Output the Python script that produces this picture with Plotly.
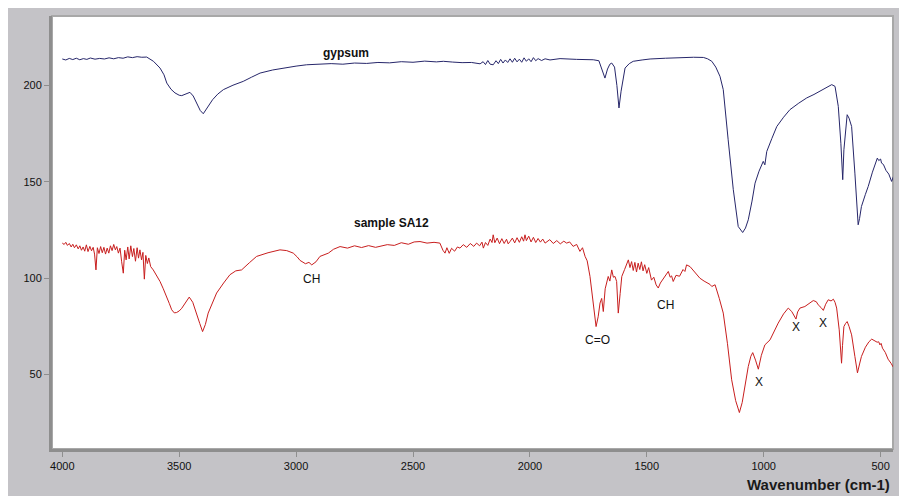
import plotly.graph_objects as go

# IR spectra (wavenumber cm-1, transmittance-like units)
gypsum_wn = [4000, 3985, 3970, 3955, 3940, 3925, 3910, 3895, 3880, 3860, 3840, 3820, 3800, 3780,
             3760, 3740, 3720, 3700, 3680, 3660, 3639, 3610, 3582, 3565, 3553, 3535, 3518, 3500,
             3489, 3470, 3454, 3440, 3425, 3410, 3397, 3385, 3370, 3357, 3335, 3311, 3270, 3226,
             3190, 3154, 3100, 3055, 3000, 2955, 2900, 2850, 2800, 2750, 2698, 2650, 2600, 2550,
             2500, 2450, 2400, 2370, 2330, 2290, 2250, 2213, 2200, 2190, 2180, 2170, 2157, 2145,
             2135, 2125, 2115, 2105, 2095, 2085, 2075, 2065, 2055, 2045, 2035, 2025, 2015, 2005,
             1995, 1985, 1975, 1965, 1950, 1935, 1914, 1890, 1871, 1800, 1729, 1705, 1690, 1679,
             1668, 1658, 1650, 1638, 1628, 1619, 1610, 1600, 1593, 1575, 1558, 1520, 1486, 1420,
             1344, 1300, 1258, 1240, 1222, 1205, 1187, 1173, 1152, 1130, 1109, 1090, 1078, 1066,
             1050, 1037, 1020, 1009, 1002, 995, 987, 965, 944, 915, 888, 850, 816, 785, 759, 730,
             709, 695, 681, 670, 662, 657, 650, 643, 635, 624, 610, 596, 590, 582, 565, 553, 535,
             514, 508, 500, 496, 488, 477, 465, 453, 444]
gypsum_t = [213.7, 213.2, 214.0, 213.4, 214.1, 213.3, 213.9, 213.5, 214.2, 213.6, 214.0, 213.7,
            214.3, 213.8, 214.4, 214.1, 214.8, 214.4, 214.9, 214.6, 214.7, 212.5, 209.0, 205.5,
            201.2, 198.0, 196.1, 194.9, 194.7, 195.6, 196.4, 194.5, 190.9, 187.0, 185.3, 187.5,
            190.5, 192.6, 195.5, 197.8, 200.1, 202.1, 204.3, 206.4, 208.0, 209.0, 210.0, 210.7,
            210.9, 211.3, 211.0, 211.6, 211.4, 211.9, 211.7, 212.3, 212.0, 212.6, 212.2, 212.5,
            212.1, 211.8, 211.9, 211.2, 212.3, 210.8, 212.9, 211.0, 210.7, 212.8, 211.3, 213.5,
            211.6, 213.2, 211.9, 213.8, 212.0, 214.1, 212.2, 213.6, 212.0, 214.3, 212.5, 213.8,
            212.3, 214.4, 212.8, 213.9, 212.9, 213.8, 213.2, 213.6, 213.9, 213.5, 213.3, 212.8,
            208.0, 203.8, 208.5, 211.0, 211.6, 209.5, 200.0, 188.3, 197.0, 205.5, 209.0, 211.3,
            212.5, 213.2, 213.7, 214.1, 214.5, 214.6, 214.5, 213.8, 212.5, 209.5, 204.7, 197.8,
            171.8, 145.9, 126.8, 123.7, 126.0, 130.3, 140.0, 149.3, 155.5, 158.8, 160.6, 158.8,
            165.7, 172.5, 178.7, 183.5, 187.4, 190.8, 193.5, 195.3, 196.9, 198.8, 200.4, 199.5,
            189.1, 170.0, 151.1, 166.6, 178.0, 184.8, 183.0, 178.7, 154.5, 127.7, 131.0, 137.2,
            143.5, 147.6, 155.0, 162.3, 161.0, 161.8, 159.7, 159.0, 155.9, 154.0, 150.2, 153.1]

sample_wn = [4000, 3992, 3985, 3978, 3970, 3962, 3955, 3948, 3940, 3932, 3925, 3918, 3911, 3904,
             3897, 3890, 3882, 3875, 3868, 3862, 3856, 3850, 3843, 3836, 3829, 3822, 3815, 3808,
             3801, 3794, 3787, 3780, 3773, 3767, 3760, 3753, 3746, 3739, 3733, 3727, 3720, 3714,
             3707, 3700, 3694, 3687, 3680, 3674, 3668, 3661, 3655, 3649, 3643, 3636, 3630, 3622,
             3611, 3596, 3582, 3568, 3553, 3542, 3532, 3521, 3511, 3500, 3489, 3472, 3457, 3442,
             3425, 3412, 3400, 3388, 3376, 3358, 3340, 3310, 3283, 3258, 3233, 3200, 3169, 3120,
             3069, 3040, 3012, 2995, 2983, 2960, 2945, 2933, 2915, 2898, 2862, 2840, 2812, 2780,
             2750, 2720, 2690, 2660, 2641, 2610, 2580, 2550, 2520, 2495, 2470, 2440, 2410, 2385,
             2372, 2363, 2355, 2345, 2335, 2322, 2310, 2299, 2285, 2270, 2255, 2240, 2228, 2215,
             2205, 2199, 2190, 2180, 2170, 2162, 2157, 2150, 2140, 2130, 2120, 2110, 2100, 2093,
             2085, 2075, 2065, 2055, 2045, 2035, 2027, 2021, 2015, 2005, 1995, 1985, 1975, 1965,
             1955, 1945, 1935, 1928, 1915, 1900, 1885, 1870, 1855, 1843, 1830, 1815, 1800, 1786,
             1775, 1764, 1755, 1743, 1729, 1717, 1708, 1700, 1693, 1686, 1678, 1672, 1665, 1658,
             1650, 1643, 1636, 1629, 1622, 1614, 1607, 1595, 1586, 1579, 1572, 1565, 1558, 1551,
             1544, 1537, 1530, 1523, 1516, 1509, 1500, 1492, 1480, 1470, 1460, 1451, 1442, 1430,
             1420, 1408, 1400, 1394, 1387, 1375, 1360, 1345, 1337, 1330, 1315, 1300, 1285, 1273,
             1255, 1240, 1230, 1222, 1208, 1190, 1173, 1155, 1137, 1120, 1104, 1092, 1080, 1066,
             1055, 1047, 1035, 1023, 1010, 995, 973, 955, 938, 915, 895, 880, 868, 862, 855, 845,
             824, 805, 788, 775, 767, 755, 745, 735, 724, 712, 702, 695, 688, 677, 670, 667, 663,
             657, 650, 643, 635, 624, 610, 599, 590, 582, 565, 550, 538, 525, 515, 508, 503, 498,
             492, 480, 468, 455, 446]
sample_t = [118.2, 117.5, 118.6, 117.0, 118.0, 116.2, 117.6, 115.8, 117.3, 115.2, 116.8, 114.5,
            116.2, 114.0, 117.3, 113.8, 116.5, 114.2, 116.0, 112.5, 104.3, 115.8, 112.8, 116.4,
            113.2, 116.0, 112.5, 115.6, 113.0, 116.8, 114.3, 117.5, 114.7, 116.4, 113.0, 115.6,
            108.5, 102.6, 114.5, 109.5, 116.2, 110.0, 116.8, 111.2, 115.4, 108.8, 115.8, 110.4,
            114.7, 109.5, 113.4, 99.5, 111.8, 107.6, 110.5, 106.0, 104.3, 101.5, 98.3, 94.5,
            90.5, 86.8, 83.6, 82.0, 82.2, 83.0, 84.4, 87.5, 90.2, 87.5, 81.9, 76.5, 72.3, 76.0,
            81.9, 87.5, 92.3, 97.5, 101.8, 103.8, 104.3, 108.0, 111.3, 113.2, 114.7, 114.3,
            113.0, 111.0, 109.2, 107.5, 108.2, 106.9, 108.5, 111.3, 113.0, 115.0, 116.4, 115.6,
            116.8, 115.9, 116.9, 116.0, 116.4, 117.4, 117.0, 118.4, 117.6, 118.8, 119.0, 118.2,
            118.6, 118.2, 114.5, 113.0, 115.8, 112.9, 115.5, 114.0, 116.2, 115.6, 117.4, 116.0,
            118.0, 116.5, 118.2, 116.8, 118.7, 115.6, 118.5, 117.0, 120.3, 118.5, 122.5, 118.4,
            120.8, 117.9, 120.5, 118.0, 120.2, 117.8, 119.0, 120.8, 118.3, 121.0, 118.6, 121.5,
            119.2, 122.5, 119.5, 121.8, 118.8, 121.2, 118.5, 120.6, 118.7, 120.3, 118.2, 119.0,
            120.0, 118.0, 119.5, 117.8, 119.2, 118.2, 118.8, 116.5, 117.5, 113.9, 115.8, 111.3,
            109.0, 100.9, 85.3, 74.9, 80.0, 87.1, 89.5, 82.7, 94.5, 97.5, 100.9, 98.5, 104.3,
            100.5, 100.9, 98.3, 81.9, 92.0, 100.9, 104.5, 107.0, 109.5, 105.5, 108.6, 104.0,
            108.2, 103.2, 107.8, 104.5, 108.5, 103.8, 107.0, 102.5, 105.5, 99.0, 100.5, 96.5,
            94.9, 97.5, 99.8, 101.0, 103.5, 100.5, 101.2, 98.3, 101.5, 101.0, 104.5, 103.5,
            106.9, 106.0, 104.0, 102.0, 100.0, 98.5, 97.5, 96.8, 95.7, 96.6, 89.5, 81.9, 66.0,
            47.3, 36.5, 30.3, 35.5, 43.8, 54.2, 59.5, 61.4, 57.5, 52.8, 60.0, 65.4, 68.0, 72.5,
            76.7, 81.5, 84.5, 82.7, 80.0, 78.8, 82.5, 84.5, 85.3, 87.2, 88.4, 87.8, 86.2, 84.8,
            83.3, 86.5, 88.8, 88.2, 89.1, 87.5, 84.5, 73.2, 60.5, 55.9, 65.0, 74.9, 76.5, 77.5,
            75.0, 70.6, 59.4, 50.9, 55.5, 59.4, 64.2, 67.0, 68.4, 67.5, 66.8, 67.0, 65.4, 66.2,
            63.7, 61.5, 58.0, 55.8, 53.9]

# band labels: (text, wavenumber, value, bold)
labels = [("gypsum", 2787, 217.0, True), ("sample SA12", 2592, 128.7, True),
          ("CH", 2933, 99.5, False), ("C=O", 1709, 68.0, False), ("CH", 1419, 86.2, False),
          ("X", 1021, 46.4, False), ("X", 862, 74.9, False), ("X", 748, 77.0, False)]

x_ticks = [4000, 3500, 3000, 2500, 2000, 1500, 1000, 500]
y_ticks = [50, 100, 150, 200]

fig = go.Figure()
fig.add_trace(go.Scatter(x=gypsum_wn, y=gypsum_t, mode='lines', name='gypsum',
                         line=dict(color='#26266a', width=1)))
fig.add_trace(go.Scatter(x=sample_wn, y=sample_t, mode='lines', name='sample SA12',
                         line=dict(color='#c81e1e', width=1)))

for text, wn, val, bold in labels:
    fig.add_annotation(x=wn, y=val, text="<b>%s</b>" % text if bold else text, showarrow=False,
                       font=dict(size=12, color='#111111'))

# gray frame around the white plot area
fig.add_shape(type="rect", xref="paper", yref="paper", x0=-0.1, x1=1.1, y0=-0.2, y1=1.1,
              fillcolor="#c4c3c7", line=dict(width=0), layer="below")
fig.add_shape(type="rect", xref="paper", yref="paper", x0=0, x1=1, y0=0, y1=1,
              fillcolor="white", line=dict(color="#a8a8a8", width=2), layer="below")

fig.add_annotation(xref="paper", yref="paper", x=0.999, y=-0.082, xanchor="right",
                   yanchor="middle", text="<b>Wavenumber (cm-1)</b>", showarrow=False,
                   font=dict(size=15, color='#1a1a1a'))

# the page body adds an 8px offset, so the figure is 8px smaller
fig.update_layout(
    width=899, height=488,
    margin=dict(l=44, r=14, t=8, b=47),
    paper_bgcolor='white', plot_bgcolor='white',
    showlegend=False,
    font=dict(family='Arial, Liberation Sans, sans-serif', size=11, color='#111111'),
    xaxis=dict(range=[4044, 447], tickvals=x_ticks, showgrid=False, zeroline=False,
               showline=True, linecolor='#8e8e8e', linewidth=3, ticks='outside', ticklen=5,
               tickcolor='#8e8e8e', tickfont=dict(size=11)),
    yaxis=dict(range=[11.4, 236], tickvals=y_ticks, showgrid=False, zeroline=False,
               showline=True, linecolor='#8e8e8e', linewidth=3, ticks='outside', ticklen=5,
               tickcolor='#8e8e8e', tickfont=dict(size=11)),
)

fig.write_html("out.html")
